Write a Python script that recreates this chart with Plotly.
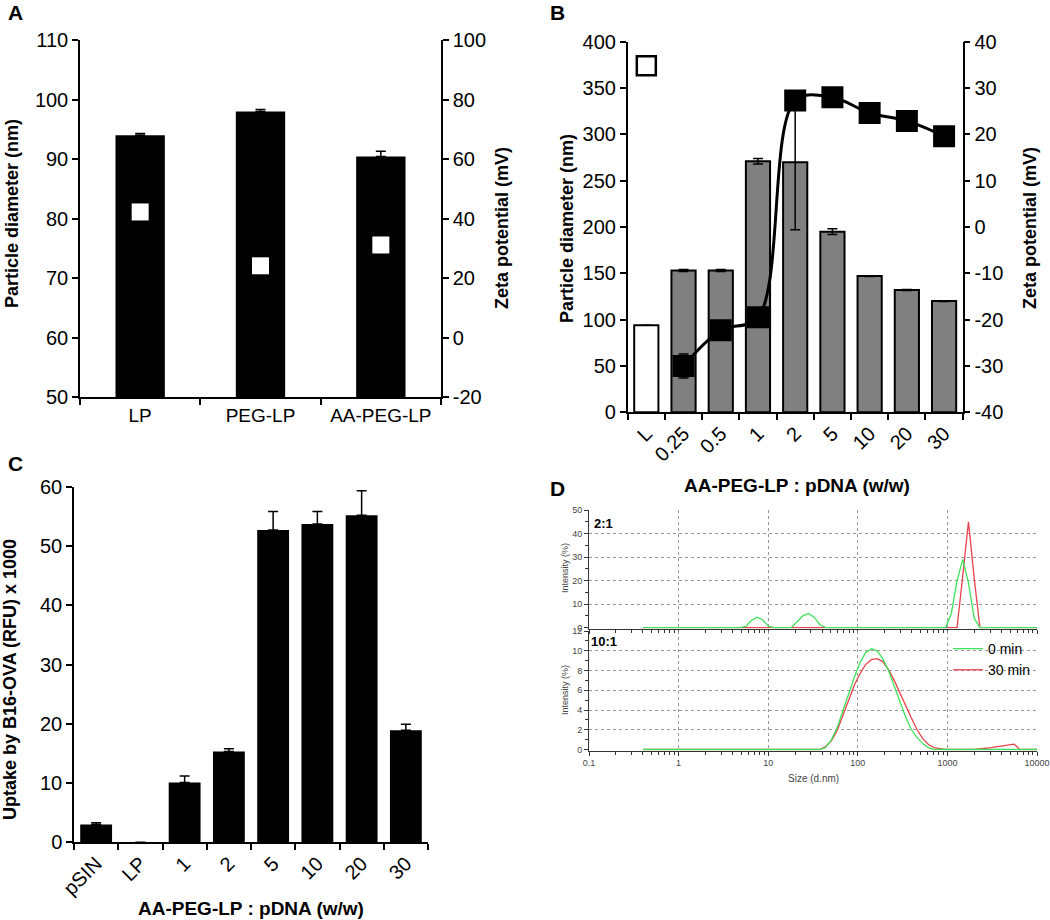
"""
Four-panel figure: particle size / zeta potential (A, B), uptake (C), DLS size distributions (D).
"""
import plotly.graph_objects as go

FONT = "Arial, 'Liberation Sans', sans-serif"
W, H = 1050, 920

# ---- Panel A: liposome formulations
cats_a = ["LP", "PEG-LP", "AA-PEG-LP"]
diam_a = [94.0, 98.0, 90.4]
diam_a_err = [0.3, 0.3, 0.9]
zeta_a = [42.2, 24.1, 31.1]

# ---- Panel B: AA-PEG-LP : pDNA ratio
cats_b = ["L", "0.25", "0.5", "1", "2", "5", "10", "20", "30"]
diam_b = [94, 153, 153, 271, 270, 195, 147, 132, 120]
diam_b_err = [0, 1, 1, 3, 73, 3, 0.5, 0.5, 0.5]
zeta_b = [34.8, -30.0, -22.3, -19.5, 27.3, 28.0, 24.6, 22.9, 19.6]
zeta_b_err = [0, 2.6, 0, 0, 0, 0, 0, 0, 0]

# ---- Panel C: uptake by B16-OVA
cats_c = ["pSIN", "LP", "1", "2", "5", "10", "20", "30"]
uptake_c = [3.0, 0, 10.1, 15.3, 52.7, 53.7, 55.2, 18.9]
uptake_c_err = [0.3, 0, 1.1, 0.5, 3.1, 2.1, 4.1, 1.0]

# ---- Panel D: DLS intensity distributions
size_21_0 = [0.4, 4.84, 5.61, 6.49, 7.52, 8.71, 10.1, 11.7, 18.1, 21.0, 24.4, 28.2,
             32.7, 37.8, 43.8, 955, 1106, 1281, 1484, 1718, 1990, 2305, 10000]
int_21_0 = [0, 0, 0.5, 3.0, 4.4, 3.2, 0.5, 0, 0, 2.5, 5.0, 6.0,
            4.3, 1.2, 0, 0, 6, 20, 29, 19, 4, 0, 0]
size_21_30 = [0.4, 1281, 1484, 1718, 1990, 2305, 10000]
int_21_30 = [0, 0, 22, 45, 21, 0, 0]

size_101_0 = [0.4, 37.8, 43.8, 50.8, 58.8, 68.1, 78.8, 91.3, 106, 122, 142, 164, 190,
              220, 255, 295, 342, 396, 459, 531, 615, 712, 10000]
int_101_0 = [0, 0, 0.2, 1.0, 2.2, 3.8, 5.6, 7.3, 8.8, 9.8, 10.2, 10.0, 9.2,
             8.0, 6.4, 4.8, 3.3, 2.0, 1.2, 0.6, 0.2, 0, 0]
size_101_30 = [0.4, 37.8, 43.8, 50.8, 58.8, 68.1, 78.8, 91.3, 106, 122, 142, 164, 190,
               220, 255, 295, 342, 396, 459, 531, 615, 712, 825, 955, 1990, 2305,
               2669, 3091, 3580, 4145, 4801, 5560, 6439, 10000]
int_101_30 = [0, 0, 0.3, 0.9, 1.9, 3.4, 5.0, 6.5, 7.7, 8.6, 9.1, 9.2, 8.9,
              8.1, 7.0, 5.7, 4.5, 3.2, 2.0, 1.1, 0.5, 0.2, 0.1, 0, 0, 0.05,
              0.12, 0.2, 0.3, 0.4, 0.48, 0.55, 0, 0]

size_ticks = [0.1, 1, 10, 100, 1000, 10000]
size_ticktext = ["0.1", "1", "10", "100", "1000", "10000"]
zeta_a_ticks = [-20, 0, 20, 40, 60, 80, 100]
zeta_b_ticks = [-40, -30, -20, -10, 0, 10, 20, 30, 40]

GREEN = "#3ee25a"
RED = "#e8424c"


def xd(left, right):
    return [left / W, right / W]


def yd(top, bottom):
    return [1 - bottom / H, 1 - top / H]


err_style = dict(color="black", thickness=1.5, width=5)

fig = go.Figure()

# A
fig.add_trace(go.Bar(
    x=cats_a, y=diam_a, width=0.41, marker=dict(color="black", line=dict(width=0)),
    error_y=dict(type="data", array=diam_a_err, arrayminus=[0] * 3, symmetric=False, **err_style),
    xaxis="x", yaxis="y", showlegend=False))
fig.add_trace(go.Scatter(
    x=cats_a, y=zeta_a, mode="markers",
    marker=dict(symbol="square", size=17, color="white", line=dict(width=0)),
    xaxis="x", yaxis="y2", showlegend=False))

# B
fig.add_trace(go.Bar(
    x=cats_b, y=diam_b, width=0.65,
    marker=dict(color=["white"] + ["#808080"] * 8, line=dict(color="black", width=2)),
    error_y=dict(type="data", array=diam_b_err, **err_style),
    xaxis="x2", yaxis="y3", showlegend=False))
fig.add_trace(go.Scatter(
    x=cats_b[1:], y=zeta_b[1:], mode="lines+markers",
    line=dict(color="black", width=3, shape="spline", smoothing=1),
    marker=dict(symbol="square", size=22, color="black"),
    error_y=dict(type="data", array=zeta_b_err[1:], **err_style),
    xaxis="x2", yaxis="y4", showlegend=False))
fig.add_trace(go.Scatter(
    x=cats_b[:1], y=zeta_b[:1], mode="markers",
    marker=dict(symbol="square", size=19, color="white", line=dict(color="black", width=2.5)),
    xaxis="x2", yaxis="y4", showlegend=False))

# C
fig.add_trace(go.Bar(
    x=cats_c, y=uptake_c, width=0.72, marker=dict(color="black", line=dict(width=0)),
    error_y=dict(type="data", array=uptake_c_err, arrayminus=[0] * 8, symmetric=False, **err_style),
    xaxis="x3", yaxis="y5", showlegend=False))

# D (red first so green sits on top)
fig.add_trace(go.Scatter(x=size_21_30, y=int_21_30, mode="lines", line=dict(color=RED, width=1.3),
                         xaxis="x4", yaxis="y6", showlegend=False))
fig.add_trace(go.Scatter(x=size_21_0, y=int_21_0, mode="lines", line=dict(color=GREEN, width=1.3),
                         xaxis="x4", yaxis="y6", showlegend=False))
fig.add_trace(go.Scatter(x=size_101_30, y=int_101_30, mode="lines", name="30 min", legendrank=2,
                         line=dict(color=RED, width=1.3), xaxis="x5", yaxis="y7"))
fig.add_trace(go.Scatter(x=size_101_0, y=int_101_0, mode="lines", name="0 min", legendrank=1,
                         line=dict(color=GREEN, width=1.3), xaxis="x5", yaxis="y7"))

big_axis = dict(showline=True, linecolor="black", linewidth=1.5, ticks="outside", ticklen=6,
                tickwidth=1.5, tickcolor="black", showgrid=False, zeroline=False, automargin=False,
                tickfont=dict(size=20, color="black"))
cat_axis = dict(big_axis, type="category", tickson="boundaries")
dls_axis = dict(showline=True, linecolor="#333", linewidth=1, ticks="outside", ticklen=4,
                tickcolor="#333", showgrid=True, griddash="dot", gridcolor="#999", gridwidth=1,
                zeroline=False, automargin=False, layer="below traces",
                tickfont=dict(size=9, color="#444"))
dls_minor = dict(ticks="outside", ticklen=3, tickcolor="#333", showgrid=False)

fig.update_layout(
    template="simple_white",
    width=W, height=H,
    margin=dict(l=0, r=0, t=0, b=0, autoexpand=False),
    font=dict(family=FONT, color="black"),
    paper_bgcolor="white", plot_bgcolor="white",
    xaxis=dict(cat_axis, domain=xd(80, 441), anchor="y", range=[-0.5, 2.5],
               tickfont=dict(size=19, color="black")),
    yaxis=dict(big_axis, domain=yd(40, 397), anchor="x", range=[50, 110], dtick=10),
    yaxis2=dict(big_axis, overlaying="y", side="right", anchor="x", range=[-20, 100],
                tickvals=zeta_a_ticks, ticktext=[str(v) for v in zeta_a_ticks]),
    xaxis2=dict(cat_axis, domain=xd(627.7, 962.7), anchor="y3", range=[-0.5, 8.5], tickangle=-45),
    yaxis3=dict(big_axis, domain=yd(41.7, 412.3), anchor="x2", range=[0, 400], dtick=50),
    yaxis4=dict(big_axis, overlaying="y3", side="right", anchor="x2", range=[-40, 40],
                tickvals=zeta_b_ticks, ticktext=[str(v) for v in zeta_b_ticks]),
    xaxis3=dict(cat_axis, domain=xd(74, 428), anchor="y5", range=[-0.5, 7.5], tickangle=-45),
    yaxis5=dict(big_axis, domain=yd(486.7, 842.3), anchor="x3", range=[0, 60], dtick=10),
    xaxis4=dict(dls_axis, domain=xd(589, 1037), anchor="y6", type="log", range=[-1, 4],
                tickvals=size_ticks, showticklabels=False, minor=dict(dls_minor, dtick="D1")),
    yaxis6=dict(dls_axis, domain=yd(510, 628.5), anchor="x4", range=[-0.4, 50],
                tickvals=[0, 10, 20, 30, 40, 50], minor=dict(dls_minor, dtick=5)),
    xaxis5=dict(dls_axis, domain=xd(589, 1037), anchor="y7", type="log", range=[-1, 4],
                tickvals=size_ticks, ticktext=size_ticktext, minor=dict(dls_minor, dtick="D1")),
    yaxis7=dict(dls_axis, domain=yd(631, 750.5), anchor="x5", range=[-0.1, 12],
                tickvals=[0, 2, 4, 6, 8, 10, 12], minor=dict(dls_minor, dtick=1)),
    legend=dict(x=948 / W, y=1 - 633 / H, xanchor="left", yanchor="top",
                bgcolor="rgba(0,0,0,0)", font=dict(size=14, color="black"),
                tracegroupgap=0, itemwidth=30),
)


def label(text, x, y, size, bold=True, angle=0, color="black"):
    fig.add_annotation(text=f"<b>{text}</b>" if bold else text, x=x / W, y=1 - y / H,
                       xref="paper", yref="paper", xanchor="center", yanchor="middle",
                       showarrow=False, textangle=angle, font=dict(size=size, color=color))


# panel letters
label("A", 15, 13, 21)
label("B", 557, 13, 21)
label("C", 15, 463, 21)
label("D", 557, 488, 21)

# axis titles
label("Particle diameter (nm)", 12, 214, 18, angle=-90)
label("Zeta potential (mV)", 502, 228, 18, angle=-90)
label("Particle diameter (nm)", 567, 229, 18, angle=-90)
label("Zeta potential (mV)", 1030, 228, 18, angle=-90)
label("AA-PEG-LP : pDNA (w/w)", 797, 485, 19)
label("Uptake by B16-OVA (RFU) x 1000", 10, 680, 18, angle=-90)
label("AA-PEG-LP : pDNA (w/w)", 251, 908, 19)

# panel D texts
label("2:1", 603, 523, 13)
label("10:1", 604, 641, 13)
label("Intensity (%)", 565, 568, 9, bold=False, angle=-90, color="#444")
label("Intensity (%)", 565, 690, 9, bold=False, angle=-90, color="#444")
label("Size (d.nm)", 813, 778, 10, bold=False, color="#444")

# the page's default 8px body margin would shift the whole figure
fig.write_html("out.html", config={"displayModeBar": False},
               post_script="document.body.style.margin = '0';")
